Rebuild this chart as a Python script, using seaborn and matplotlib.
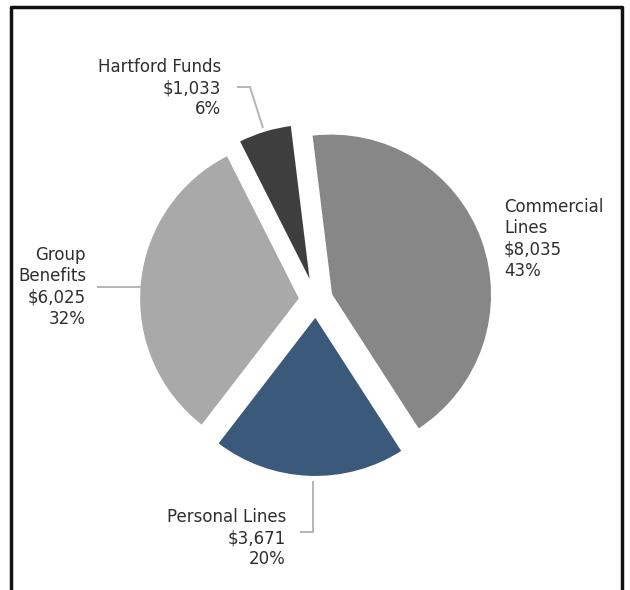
import matplotlib
matplotlib.use('Agg')
import matplotlib.pyplot as plt
import seaborn as sns

# revenue by segment (clockwise from the top)
segments = ['Commercial\nLines', 'Personal Lines', 'Group\nBenefits', 'Hartford Funds']
revenue = [8035, 3671, 6025, 1033]
shares = ['43%', '20%', '32%', '6%']
colors = ['#878787', '#3b5a7b', '#a9a9a9', '#3e3e3e']

sns.set_theme(style='white')
plt.rcParams['font.family'] = ['DejaVu Sans']

W, H = 630, 590
fig = plt.figure(figsize=(W / 100, H / 100), dpi=100)
ax = fig.add_axes([0, 0, 1, 1])


def Y(py):
    # image pixel row -> axis y
    return H - py


ax.pie(revenue, colors=colors, startangle=97, counterclock=False,
       explode=[16] * len(revenue), radius=161, center=(316, Y(300)),
       wedgeprops=dict(edgecolor='white', linewidth=1.5))
ax.set_xlim(0, W)
ax.set_ylim(0, H)
ax.set_aspect('equal')
ax.axis('off')

labels = [f"{s}\n\\${v:,}\n{p}" for s, v, p in zip(segments, revenue, shares)]
txt = dict(fontsize=12, color='#2e2e2e', linespacing=1.25, va='center')

# label placement
ax.text(504, Y(239), labels[0], ha='left', multialignment='left', **txt)
ax.text(286, Y(538), labels[1], ha='right', multialignment='right', **txt)
ax.text(86, Y(287), labels[2], ha='right', multialignment='right', **txt)
ax.text(221, Y(88), labels[3], ha='right', multialignment='right', **txt)

# leader lines
lc = dict(color='#b5b5b5', lw=1.4, solid_capstyle='butt')
ax.plot([237, 250, 263], [Y(87), Y(87), Y(128)], **lc)
ax.plot([97, 141], [Y(287), Y(287)], **lc)
ax.plot([300, 313, 313], [Y(532), Y(532), Y(481)], **lc)

# frame
fc = dict(color='#111111', lw=2.5)
ax.plot([11, 11, 622, 622], [0, Y(7), Y(7), 0], **fc)

fig.savefig('out.png', dpi=100)
